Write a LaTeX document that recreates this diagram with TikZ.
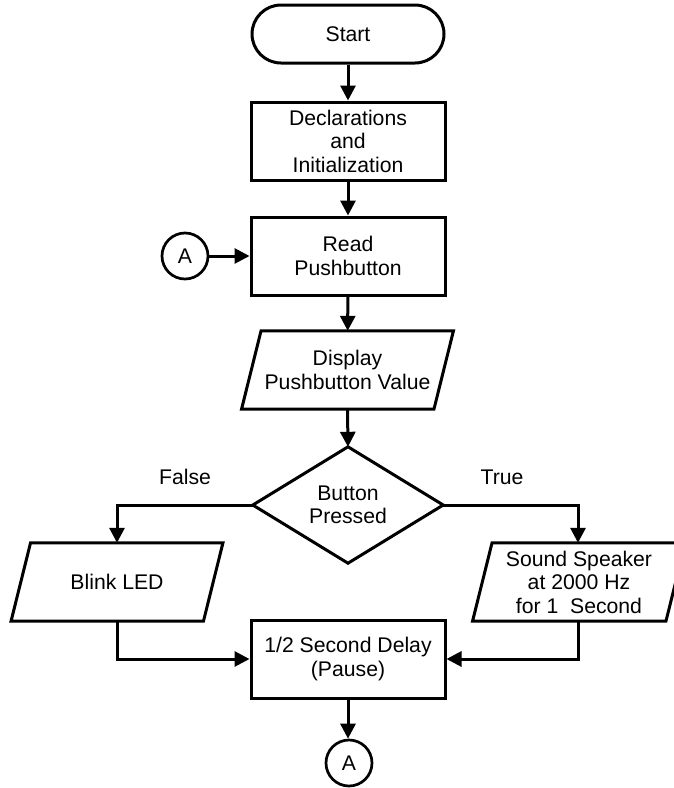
\documentclass[tikz,border=0pt]{standalone}
\usepackage{fontspec}
\setmainfont{Liberation Sans}
\usetikzlibrary{arrows.meta,calc}
\begin{document}
\begin{tikzpicture}[x=1pt,y=-1pt,
  every node/.style={font=\fontsize{21.2}{23.5}\selectfont, align=center, inner sep=0pt},
  box/.style={draw, line width=3pt, minimum width=194pt, minimum height=78pt},
  term/.style={draw, line width=3pt, rounded corners=29pt, minimum width=192pt, minimum height=58pt},
  pnode/.style={minimum width=192pt, minimum height=78pt},
  pshape/.style={line width=3pt, line join=miter},
  conn/.style={draw, circle, line width=2.7pt, minimum size=46pt},
  dia/.style={line width=3pt},
  arr/.style={line width=3pt, -{Triangle[length=15pt,width=15pt]}},
  lbl/.style={}
]
\useasboundingbox (0,0) rectangle (674,788);

\node[term] (start) at (348,34) {Start};
\node[box] (decl) at (348,141) {Declarations\\and\\Initialization};
\node[box] (read) at (348,256) {Read\\Pushbutton};
\node[conn] (a1) at (185,256) {A};
\node[pnode] (disp) at (347.5,370) {Display\\Pushbutton Value};
\draw[pshape] ([xshift=9.75pt]disp.north west) -- ([xshift=9.75pt]disp.north east) -- ([xshift=-9.75pt]disp.south east) -- ([xshift=-9.75pt]disp.south west) -- cycle;

\node[minimum width=190pt, minimum height=116pt] (dec) at (348,505) {Button\\Pressed};
\draw[dia] (dec.north) -- (dec.east) -- (dec.south) -- (dec.west) -- cycle;

\node[pnode] (blink) at (117,582) {Blink LED};
\draw[pshape] ([xshift=9.75pt]blink.north west) -- ([xshift=9.75pt]blink.north east) -- ([xshift=-9.75pt]blink.south east) -- ([xshift=-9.75pt]blink.south west) -- cycle;

\node[pnode, minimum width=193pt] (sound) at (579,582) {Sound Speaker\\at 2000 Hz\\for 1~~Second};
\draw[pshape] ([xshift=9.75pt]sound.north west) -- ([xshift=9.75pt]sound.north east) -- ([xshift=-9.75pt]sound.south east) -- ([xshift=-9.75pt]sound.south west) -- cycle;

\node[box] (delay) at (348,659) {1/2 Second Delay\\(Pause)};
\node[conn] (a2) at (349,763) {A};

\node[lbl] (false) at (185,477) {False};
\node[lbl] (true) at (502,477) {True};

\draw[arr] (start) -- (decl);
\draw[arr] (decl) -- (read);
\draw[arr] (a1) -- (read);
\draw[arr] (read) -- (disp);
\draw[arr] (disp.south) -- (dec.north);
\draw[arr] (dec.west) -| (blink.north);
\draw[arr] (dec.east) -| (sound.north -| 578,0);
\draw[arr] (blink.south) |- (delay.west);
\draw[arr] (sound.south -| 578,0) |- (delay.east);
\draw[arr] (delay.south) -- (a2.north -| delay.south);
\end{tikzpicture}
\end{document}
